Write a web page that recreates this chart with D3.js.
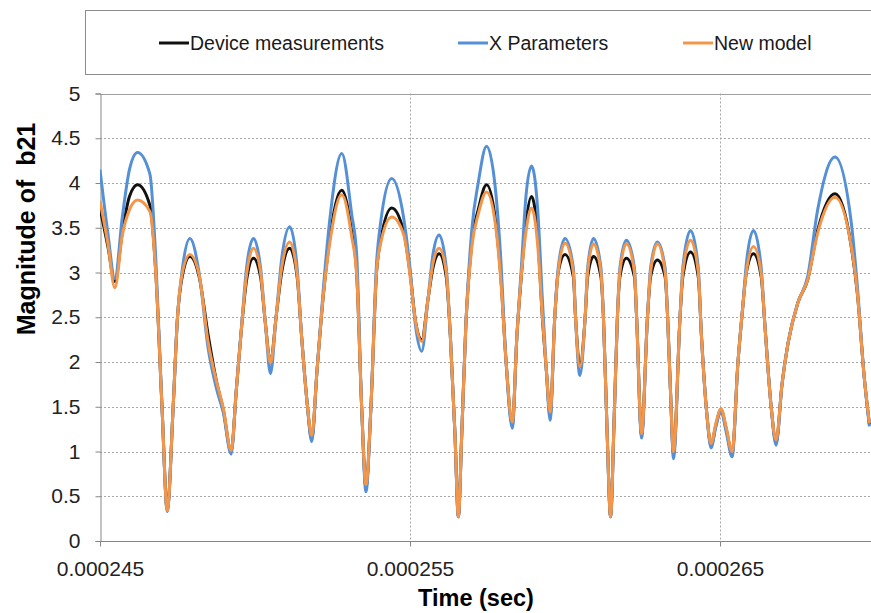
<!DOCTYPE html>
<head>
    <meta charset="utf-8">
    <script src="https://d3js.org/d3.v7.js"></script>
    <style>
        body { margin: 0; background: #fff; }
        text { font-family: "Liberation Sans", Arial, sans-serif; }
    </style>
</head>
<body>
    <svg id="chart" width="871" height="613"></svg>
    <script>
        // time in microseconds (tick labels are shown in seconds)
        const timeUs = [
            245.00, 245.25, 245.48, 245.72, 245.95, 246.21, 246.61, 246.80, 247.00, 247.17,
            247.36, 247.50, 247.66, 247.90, 248.20, 248.49, 248.76, 248.98, 249.23, 249.40,
            249.57, 249.73, 249.95, 250.18, 250.33, 250.50, 250.68, 250.86, 251.12, 251.36,
            251.50, 251.68, 251.83, 252.00, 252.20, 252.40, 252.80, 253.12, 253.28, 253.44,
            253.58, 253.74, 253.92, 254.05, 254.41, 254.80, 255.00, 255.18, 255.38, 255.58,
            255.74, 255.94, 256.17, 256.30, 256.45, 256.56, 256.67, 256.80, 257.00, 257.20,
            257.47, 257.75, 257.92, 258.10, 258.30, 258.45, 258.60, 258.74, 258.92, 259.12,
            259.27, 259.40, 259.52, 259.67, 259.78, 260.00, 260.27, 260.34, 260.48, 260.65,
            260.73, 260.92, 261.16, 261.24, 261.36, 261.47, 261.58, 261.69, 261.77, 261.98,
            262.24, 262.31, 262.47, 262.66, 262.76, 262.98, 263.23, 263.31, 263.40, 263.50,
            263.71, 263.80, 264.05, 264.30, 264.40, 264.58, 264.71, 264.87, 265.03, 265.20,
            265.39, 265.58, 265.73, 265.85, 266.08, 266.33, 266.45, 266.65, 266.81, 267.00,
            267.19, 267.51, 267.83, 268.15, 268.71, 269.23, 269.43, 269.65, 269.82
        ];
        const device = [
            3.72, 3.30, 2.90, 3.45, 3.85, 3.98, 3.75, 3.00, 1.50, 0.35,
            1.50, 2.50, 2.97, 3.18, 2.95, 2.30, 1.78, 1.46, 1.00, 1.70,
            2.40, 2.92, 3.16, 2.95, 2.45, 1.99, 2.50, 3.00, 3.27, 2.95,
            2.30, 1.55, 1.14, 1.90, 2.73, 3.35, 3.92, 3.45, 3.00, 1.50,
            0.60, 1.50, 3.00, 3.35, 3.72, 3.45, 3.00, 2.45, 2.25, 2.70,
            3.05, 3.21, 2.95, 2.30, 1.20, 0.27, 1.20, 2.40, 3.35, 3.70,
            3.98, 3.60, 3.00, 2.00, 1.30, 2.30, 3.00, 3.55, 3.85, 3.40,
            2.50, 1.90, 1.40, 2.50, 3.00, 3.20, 2.95, 2.50, 1.95, 2.50,
            2.95, 3.18, 2.95, 2.50, 1.20, 0.27, 1.30, 2.50, 2.95, 3.16,
            2.95, 2.50, 1.18, 2.50, 2.95, 3.14, 2.95, 2.50, 1.70, 0.97,
            2.50, 2.95, 3.23, 2.95, 2.30, 1.40, 1.07, 1.30, 1.47, 1.25,
            0.98, 2.00, 2.60, 3.00, 3.21, 2.95, 2.40, 1.50, 1.10, 1.75,
            2.20, 2.66, 2.92, 3.47, 3.88, 3.30, 2.77, 1.84, 1.30
        ];
        const xParams = [
            4.15, 3.45, 2.93, 3.62, 4.15, 4.34, 4.10, 3.15, 1.50, 0.33,
            1.50, 2.50, 3.05, 3.38, 2.99, 2.15, 1.70, 1.43, 0.97, 1.70,
            2.42, 3.06, 3.38, 3.05, 2.45, 1.87, 2.50, 3.15, 3.51, 3.05,
            2.30, 1.55, 1.11, 1.90, 2.80, 3.55, 4.33, 3.65, 3.20, 1.50,
            0.55, 1.50, 3.10, 3.55, 4.05, 3.60, 3.05, 2.40, 2.12, 2.70,
            3.20, 3.42, 3.05, 2.30, 1.20, 0.27, 1.20, 2.40, 3.50, 4.00,
            4.41, 3.95, 3.20, 2.00, 1.26, 2.30, 3.10, 3.85, 4.19, 3.70,
            2.70, 1.90, 1.35, 2.50, 3.05, 3.38, 3.05, 2.50, 1.85, 2.50,
            3.05, 3.38, 3.05, 2.50, 1.20, 0.27, 1.30, 2.50, 3.05, 3.36,
            3.05, 2.50, 1.15, 2.50, 3.05, 3.34, 3.05, 2.50, 1.70, 0.92,
            2.50, 3.05, 3.47, 3.05, 2.30, 1.40, 1.04, 1.28, 1.45, 1.22,
            0.94, 2.00, 2.60, 3.10, 3.47, 3.05, 2.40, 1.50, 1.07, 1.75,
            2.20, 2.66, 2.96, 3.70, 4.29, 3.57, 2.85, 1.84, 1.28
        ];
        const newModel = [
            3.80, 3.33, 2.83, 3.42, 3.70, 3.81, 3.68, 2.98, 1.50, 0.34,
            1.50, 2.50, 3.00, 3.20, 2.97, 2.22, 1.78, 1.48, 1.01, 1.70,
            2.40, 2.98, 3.27, 3.00, 2.45, 1.99, 2.50, 3.05, 3.34, 2.97,
            2.30, 1.55, 1.18, 1.90, 2.73, 3.30, 3.87, 3.40, 2.97, 1.50,
            0.63, 1.50, 3.00, 3.32, 3.62, 3.42, 2.97, 2.45, 2.23, 2.70,
            3.10, 3.27, 3.00, 2.30, 1.20, 0.27, 1.20, 2.40, 3.30, 3.65,
            3.90, 3.55, 2.95, 2.00, 1.33, 2.30, 3.00, 3.45, 3.72, 3.30,
            2.50, 1.90, 1.44, 2.50, 3.00, 3.33, 3.00, 2.50, 1.95, 2.50,
            3.00, 3.32, 3.00, 2.50, 1.20, 0.27, 1.30, 2.50, 3.00, 3.32,
            3.00, 2.50, 1.20, 2.50, 3.00, 3.32, 3.00, 2.50, 1.70, 1.00,
            2.50, 3.00, 3.36, 3.00, 2.30, 1.40, 1.09, 1.32, 1.48, 1.27,
            1.00, 2.00, 2.60, 3.00, 3.29, 2.98, 2.40, 1.50, 1.13, 1.75,
            2.20, 2.66, 2.92, 3.44, 3.84, 3.30, 2.77, 1.84, 1.32
        ];
        const seriesNames = ["Device measurements", "X Parameters", "New model"];
        const seriesColors = ["#111111", "#5590d6", "#f4964a"];
        const yTicks = [0, 0.5, 1, 1.5, 2, 2.5, 3, 3.5, 4, 4.5, 5];
        const xTicks = [245, 255, 265];

        const svg = d3.select("#chart");
        const width = +svg.attr("width");

        // the chart runs on past the window's right edge, as in the picture
        const x = d3.scaleLinear().domain([245, 275]).range([100, 1030]);
        const y = d3.scaleLinear().domain([0, 5]).range([541, 93.5]);

        // legend box
        svg.append("rect")
            .attr("x", 85.5).attr("y", 10.5)
            .attr("width", 1000).attr("height", 64)
            .attr("fill", "#fff")
            .attr("stroke", "#8c8c8c");

        const legendX = [159, 458, 683];
        seriesNames.forEach((name, i) => {
            svg.append("line")
                .attr("x1", legendX[i]).attr("x2", legendX[i] + 30)
                .attr("y1", 43).attr("y2", 43)
                .attr("stroke", seriesColors[i])
                .attr("stroke-width", 3);
            svg.append("text")
                .attr("x", legendX[i] + 31).attr("y", 49.5)
                .attr("font-size", 19.5)
                .attr("fill", "#1a1a1a")
                .text(name);
        });

        // gridlines
        svg.append("g")
            .selectAll("line")
            .data(yTicks.filter(d => d > 0 && d < 5))
            .join("line")
                .attr("x1", 100).attr("x2", width)
                .attr("y1", d => Math.round(y(d)) + 0.5)
                .attr("y2", d => Math.round(y(d)) + 0.5)
                .attr("stroke", "#a8a8a8")
                .attr("stroke-dasharray", "2,2");
        svg.append("line")
            .attr("x1", 100).attr("x2", width)
            .attr("y1", Math.round(y(5)) + 0.5).attr("y2", Math.round(y(5)) + 0.5)
            .attr("stroke", "#a0a0a0");
        svg.append("g")
            .selectAll("line")
            .data(xTicks.slice(1))
            .join("line")
                .attr("x1", d => Math.round(x(d)) + 0.5)
                .attr("x2", d => Math.round(x(d)) + 0.5)
                .attr("y1", y(5)).attr("y2", y(0))
                .attr("stroke", "#a8a8a8")
                .attr("stroke-dasharray", "2,2");

        // axes
        const yAxis = svg.append("g")
            .attr("transform", "translate(100.5,0)")
            .call(d3.axisLeft(y).tickValues(yTicks).tickSize(5).tickPadding(15).tickFormat(d => d));
        const xAxis = svg.append("g")
            .attr("transform", `translate(0,${Math.round(y(0)) + 0.5})`)
            .call(d3.axisBottom(x).tickValues(xTicks).tickSize(5)
                .tickFormat(d => (d * 1e-6).toFixed(6)));
        xAxis.select(".domain").attr("d", `M100,0H${width}`);
        [yAxis, xAxis].forEach(ax => {
            ax.selectAll(".domain, .tick line").attr("stroke", "#868686");
            ax.selectAll("text")
                .attr("font-family", "Liberation Sans, Arial, sans-serif")
                .attr("font-size", 21)
                .attr("fill", "#222");
        });
        xAxis.selectAll("text").attr("dy", null).attr("y", 34);

        // series lines
        svg.append("clipPath").attr("id", "plot-clip")
            .append("rect").attr("x", 100).attr("y", 60).attr("width", width - 100).attr("height", 500);

        const series = seriesNames.map((name, i) => ({
            name: name,
            color: seriesColors[i],
            values: timeUs.map((t, j) => ({ t: t, v: [device, xParams, newModel][i][j] }))
        }));

        const line = d3.line()
            .x(d => x(d.t))
            .y(d => y(d.v))
            .curve(d3.curveMonotoneX);

        svg.append("g")
            .attr("clip-path", "url(#plot-clip)")
            .selectAll("path")
            .data(series)
            .join("path")
                .attr("fill", "none")
                .attr("stroke", d => d.color)
                .attr("stroke-width", 3)
                .attr("stroke-linejoin", "round")
                .attr("d", d => line(d.values));

        // axis titles
        svg.append("text")
            .attr("x", 476).attr("y", 606)
            .attr("text-anchor", "middle")
            .attr("font-size", 23.5)
            .attr("font-weight", "bold")
            .text("Time (sec)");
        svg.append("text")
            .attr("transform", "translate(35,229) rotate(-90)")
            .attr("text-anchor", "middle")
            .attr("font-size", 25)
            .attr("font-weight", "bold")
            .style("white-space", "pre")
            .text("Magnitude of  b21");
    </script>
</body>
